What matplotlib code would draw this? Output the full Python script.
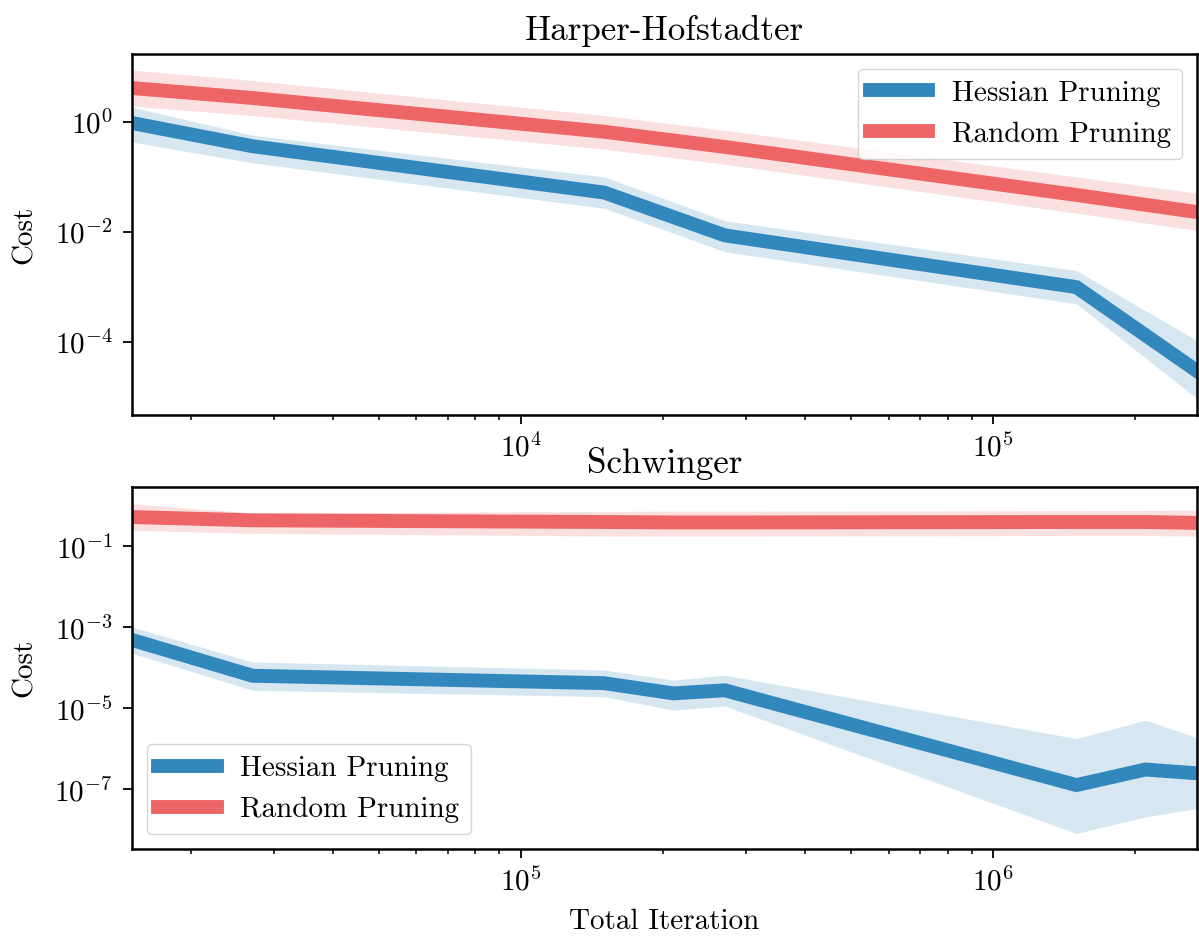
import matplotlib
matplotlib.use("Agg")
import matplotlib.pyplot as plt
import matplotlib.ticker as mticker

# ---------------- data ----------------
x_top = [1500, 2700, 15000, 27000, 150000, 270000]
hess_top = [0.95, 0.36, 0.052, 0.0087, 1.0e-3, 3.0e-5]
hess_top_lo = [0.43, 0.18, 0.027, 0.0044, 5.0e-4, 9.5e-6]
hess_top_hi = [1.85, 0.57, 0.10, 0.016, 2.0e-3, 1.07e-4]
rand_top = [4.1, 2.7, 0.66, 0.35, 0.047, 0.023]
rand_top_lo = [1.93, 1.3, 0.32, 0.17, 0.022, 0.0107]
rand_top_hi = [8.7, 5.6, 1.3, 0.70, 0.10, 0.0506]

x_bot = [15000, 27000, 150000, 210000, 270000, 1500000, 2100000, 2700000]
hess_bot = [4.9e-4, 6.4e-5, 4.2e-5, 2.35e-5, 2.8e-5, 1.28e-7, 3.1e-7, 2.5e-7]
hess_bot_lo = [2.3e-4, 2.8e-5, 1.95e-5, 9.1e-6, 1.15e-5, 8.2e-9, 2.1e-8, 3.4e-8]
hess_bot_hi = [1.02e-3, 1.4e-4, 8.9e-5, 5.0e-5, 6.6e-5, 1.8e-6, 5.1e-6, 1.9e-6]
rand_bot = [0.53, 0.44, 0.40, 0.39, 0.39, 0.40, 0.40, 0.38]
rand_bot_lo = [0.25, 0.21, 0.18, 0.18, 0.18, 0.185, 0.185, 0.18]
rand_bot_hi = [1.13, 0.67, 0.73, 0.74, 0.74, 0.76, 0.77, 0.78]

titles = ["Harper-Hofstadter", "Schwinger"]
labels = ["Hessian Pruning", "Random Pruning"]
xlabel = "Total Iteration"
ylabel = "Cost"

blue = "#3288bd"
red = "#ee6568"

# ---------------- style ----------------
plt.rcParams["font.family"] = ["cmr10", "DejaVu Serif"]
plt.rcParams["mathtext.fontset"] = "cm"
plt.rcParams["axes.formatter.use_mathtext"] = True
plt.rcParams["font.size"] = 21
plt.rcParams["axes.linewidth"] = 1.8
plt.rcParams["xtick.major.size"] = 6.5
plt.rcParams["ytick.major.size"] = 6.5
plt.rcParams["xtick.minor.size"] = 3.6
plt.rcParams["ytick.minor.size"] = 3.6
plt.rcParams["xtick.major.width"] = 1.3
plt.rcParams["ytick.major.width"] = 1.3
plt.rcParams["xtick.minor.width"] = 1.1
plt.rcParams["ytick.minor.width"] = 1.1
plt.rcParams["xtick.major.pad"] = 6.5
plt.rcParams["ytick.major.pad"] = 7.5

fig = plt.figure(figsize=(11.99, 9.41), dpi=100)
ax1 = fig.add_axes([0.1101, 0.5590, 0.8882, 0.3836])
ax2 = fig.add_axes([0.1101, 0.0978, 0.8882, 0.3847])

lw = 10

def draw(ax, x, h, hlo, hhi, r, rlo, rhi):
    ax.fill_between(x, hlo, hhi, color=blue, alpha=0.2, linewidth=0)
    ax.plot(x, h, color=blue, lw=lw, label=labels[0], solid_joinstyle="miter")
    ax.fill_between(x, rlo, rhi, color=red, alpha=0.2, linewidth=0)
    ax.plot(x, r, color=red, lw=lw, label=labels[1], solid_joinstyle="miter")
    ax.set_xscale("log")
    ax.set_yscale("log")
    ax.set_xlim(x[0], x[-1])
    ax.set_ylabel(ylabel, labelpad=12)

draw(ax1, x_top, hess_top, hess_top_lo, hess_top_hi, rand_top, rand_top_lo, rand_top_hi)
draw(ax2, x_bot, hess_bot, hess_bot_lo, hess_bot_hi, rand_bot, rand_bot_lo, rand_bot_hi)

ax1.set_ylim(10 ** -5.32, 10 ** 1.23)
ax2.set_ylim(10 ** -8.47, 10 ** 0.467)

ax1.yaxis.set_major_locator(mticker.FixedLocator([1e-4, 1e-2, 1e0]))
ax1.yaxis.set_minor_locator(mticker.NullLocator())
ax2.yaxis.set_major_locator(mticker.FixedLocator([1e-7, 1e-5, 1e-3, 1e-1]))
ax2.yaxis.set_minor_locator(mticker.NullLocator())

ax1.set_title(titles[0], pad=10)
ax2.set_title(titles[1], pad=10)
ax2.set_xlabel(xlabel, labelpad=9)

ax1.legend(loc="upper right", framealpha=0.8)
ax2.legend(loc="lower left", framealpha=0.8)

fig.savefig("out.png", dpi=100)
